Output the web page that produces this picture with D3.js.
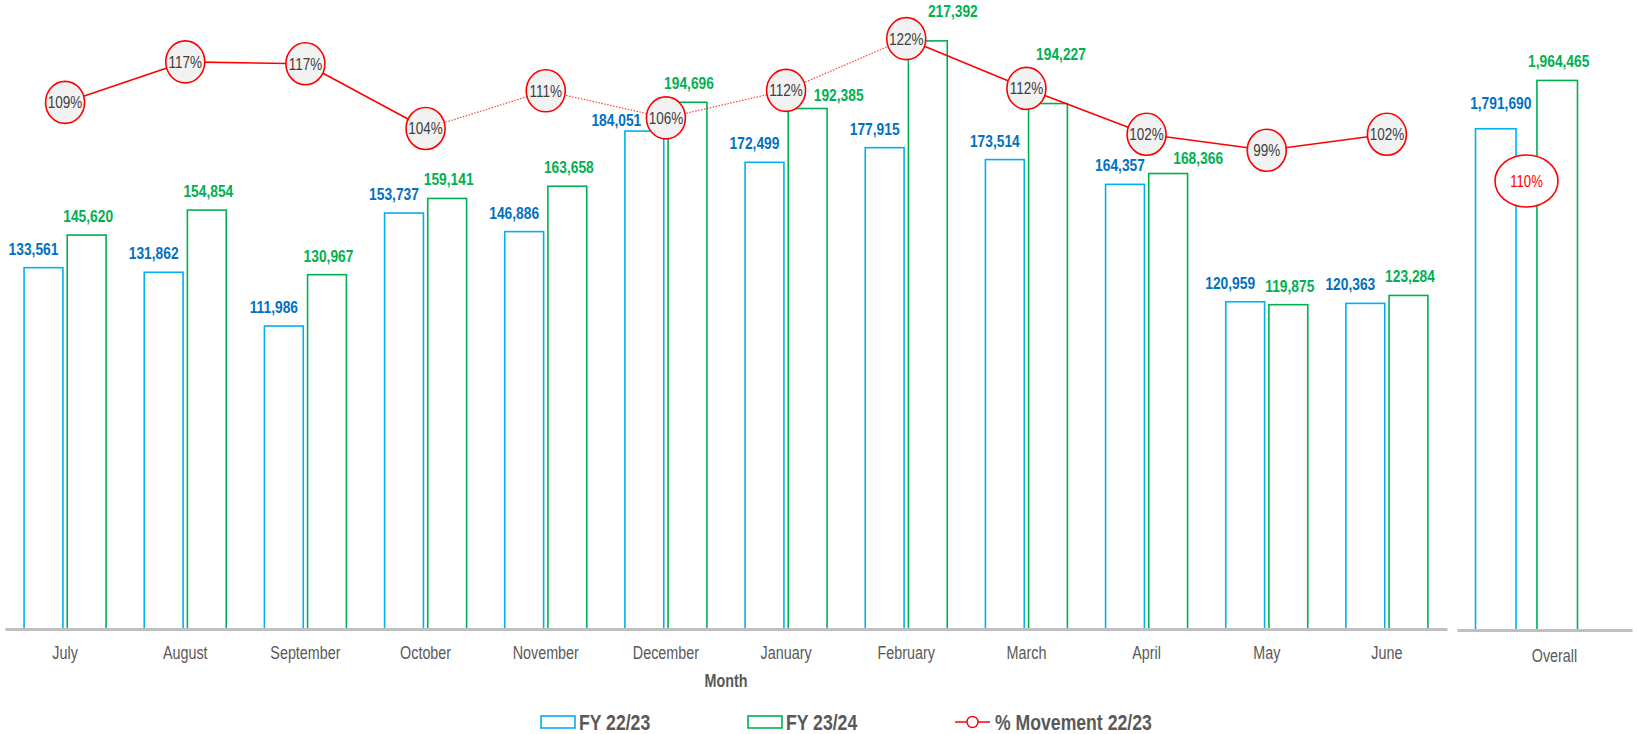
<!DOCTYPE html>
<html>
<head>
<meta charset="utf-8">
<script src="https://cdn.jsdelivr.net/npm/d3@7"></script>
<style>
  body { margin: 0; background: #fff; }
  #chart { width: 1639px; height: 734px; }
  text { font-family: 'Liberation Sans Narrow', 'Liberation Sans', Arial, sans-serif; }
</style>
</head>
<body>
<div id="chart"></div>
<script>
// values
const months = ['July', 'August', 'September', 'October', 'November', 'December',
                'January', 'February', 'March', 'April', 'May', 'June'];
const fy2223 = [133561, 131862, 111986, 153737, 146886, 184051, 172499, 177915, 173514, 164357, 120959, 120363];
const fy2324 = [145620, 154854, 130967, 159141, 163658, 194696, 192385, 217392, 194227, 168366, 119875, 123284];
const movement = [1.090, 1.174, 1.170, 1.036, 1.114, 1.058, 1.115, 1.222, 1.119, 1.024, 0.991, 1.024];

const overallCategory = ['Overall'];
const overall2223 = [1791690];
const overall2324 = [1964465];
const overallMovement = [1.096];

const seriesNames = ['FY 22/23', 'FY 23/24', '% Movement 22/23'];
// line segments starting at these months are drawn dotted
const dottedFrom = ['October', 'November', 'December', 'January'];

// hand-moved data labels in the original: [dx, gap above bar]
const labelNudges = {
    'December|FY 22/23': [-28, 5],
    'January|FY 23/24': [31, 8],
    'February|FY 23/24': [25, 24],
    'March|FY 23/24': [13, 44],
    'April|FY 22/23': [-5, 13],
    'April|FY 23/24': [30, 10],
    'May|FY 22/23': [-15, 13],
    'June|FY 22/23': [-15, 13],
    'Overall|FY 22/23': [5, 20]
};

class MovementChart {

    constructor(opts) {
        this.element = opts.element;
        this.colors = {
            'FY 22/23': '#00B0F0',
            'FY 23/24': '#00B050',
            line: '#FF0000'
        };
        this.labelColors = {
            'FY 22/23': '#0070C0',
            'FY 23/24': '#00B050'
        };
        // the source picture is squeezed sideways, text included
        this.sx = 0.82;
        this.fmt = d3.format(',');
        this.pct = d3.format('.0%');
        this.draw();
    }

    draw() {
        this.width = 1639;
        this.height = 734;
        this.baseline = 629;

        this.element.innerHTML = '';
        this.svg = d3.select(this.element).append('svg')
            .attr('width', this.width)
            .attr('height', this.height)
            .attr('viewBox', `0 0 ${this.width} ${this.height}`);

        this.rows = months.map((m, i) => ({
            cat: m,
            values: [
                {key: seriesNames[0], value: fy2223[i]},
                {key: seriesNames[1], value: fy2324[i]}
            ],
            pct: movement[i]
        }));
        this.overallRows = overallCategory.map((c, i) => ({
            cat: c,
            values: [
                {key: seriesNames[0], value: overall2223[i]},
                {key: seriesNames[1], value: overall2324[i]}
            ],
            pct: overallMovement[i]
        }));

        this.createScales();
        this.addBars(this.rows, this.xScale, this.xSub, this.yScale, -10);
        this.addBars(this.overallRows, this.xOverall, this.xOverallSub, this.yOverall, 0);
        this.addAxes();
        this.addLine();
        this.addOverallMarker();
        this.addLegend();
    }

    createScales() {
        this.xScale = d3.scaleBand()
            .domain(months)
            .range([5, 1447]);

        this.xSub = d3.scaleBand()
            .domain(seriesNames.slice(0, 2))
            .range([-41, 41])
            .paddingInner(0.1);

        this.yScale = d3.scaleLinear()
            .domain([0, 232500])
            .range([this.baseline, 0]);

        this.pScale = d3.scaleLinear()
            .domain([0, 1.302])
            .range([this.baseline, 0]);

        this.xOverall = d3.scaleBand()
            .domain(overallCategory)
            .range([1457, 1632]);

        this.xOverallSub = d3.scaleBand()
            .domain(seriesNames.slice(0, 2))
            .range([-69, 33])
            .paddingInner(0.34);

        this.yOverall = d3.scaleLinear()
            .domain([0, 2252000])
            .range([630, 0]);

        this.pOverall = d3.scaleLinear()
            .domain([0, 1.538])
            .range([630, 0]);
    }

    addBars(rows, x, sub, y, blueShift) {
        const groups = this.svg.append('g')
            .selectAll('.bar-group')
            .data(rows)
            .enter()
            .append('g')
            .classed('bar-group', true)
            .attr('transform', d => `translate(${x(d.cat) + x.bandwidth() / 2},0)`);

        groups.selectAll('.bar')
            .data(d => d.values)
            .enter()
            .append('rect')
            .classed('bar', true)
            .attr('x', d => sub(d.key))
            .attr('y', d => y(d.value))
            .attr('width', sub.bandwidth())
            .attr('height', d => y(0) - y(d.value))
            .attr('fill', '#fff')
            .attr('stroke', d => this.colors[d.key])
            .attr('stroke-width', 1.6);

        // data labels
        groups.selectAll('.data-label')
            .data(d => d.values.map(v => Object.assign({cat: d.cat}, v)))
            .enter()
            .append('text')
            .classed('data-label', true)
            .text(d => this.fmt(d.value))
            .attr('text-anchor', 'middle')
            .attr('font-size', '16.8px')
            .attr('font-weight', 'bold')
            .attr('fill', d => this.labelColors[d.key])
            .attr('transform', d => {
                const n = labelNudges[`${d.cat}|${d.key}`];
                const dx = n ? n[0] : (d.key === seriesNames[0] ? blueShift : 1.5);
                const lx = sub(d.key) + sub.bandwidth() / 2 + dx;
                const ly = y(d.value) - (n ? n[1] : 13);
                return `translate(${lx},${ly}) scale(${this.sx},1)`;
            });
    }

    addAxes() {
        const xAxis = d3.axisBottom(this.xScale)
            .tickSize(0)
            .tickSizeOuter(0)
            .tickPadding(18);

        const main = this.svg.append('g')
            .attr('class', 'x axis')
            .attr('transform', `translate(0,${this.baseline})`)
            .call(xAxis);

        const oAxis = d3.axisBottom(this.xOverall)
            .tickSize(0)
            .tickSizeOuter(0)
            .tickPadding(20);

        const over = this.svg.append('g')
            .attr('class', 'x axis')
            .attr('transform', 'translate(0,630)')
            .call(oAxis);

        [main, over].forEach(g => {
            g.select('.domain')
                .attr('stroke', '#BFBFBF')
                .attr('stroke-width', 3);
            g.selectAll('text')
                .attr('font-size', '17.5px')
                .attr('font-family', null)
                .attr('fill', '#595959')
                .attr('transform', `scale(${this.sx},1)`);
        });
        over.selectAll('text').attr('dx', 10 / this.sx);

        this.svg.append('text')
            .text('Month')
            .attr('text-anchor', 'middle')
            .attr('font-size', '17.5px')
            .attr('font-weight', 'bold')
            .attr('fill', '#595959')
            .attr('transform', `translate(726,687) scale(${this.sx},1)`);
    }

    addLine() {
        const cx = d => this.xScale(d.cat) + this.xScale.bandwidth() / 2;
        const line = d3.line()
            .x(cx)
            .y(d => this.pScale(d.pct));

        const segments = d3.pairs(this.rows);
        this.svg.append('g')
            .selectAll('path')
            .data(segments)
            .enter()
            .append('path')
            .attr('d', d => line(d))
            .attr('fill', 'none')
            .attr('stroke', this.colors.line)
            .attr('stroke-width', d => dottedFrom.includes(d[0].cat) ? 1.2 : 1.6)
            .attr('stroke-dasharray', d => dottedFrom.includes(d[0].cat) ? '1.5,1.5' : null)
            .attr('opacity', d => dottedFrom.includes(d[0].cat) ? 0.75 : 1);

        const markers = this.svg.append('g')
            .selectAll('g')
            .data(this.rows)
            .enter()
            .append('g')
            .attr('transform', d => `translate(${cx(d)},${this.pScale(d.pct)})`);

        markers.append('ellipse')
            .attr('rx', 19.5)
            .attr('ry', 21)
            .attr('fill', '#F2F2F2')
            .attr('stroke', this.colors.line)
            .attr('stroke-width', 1.6);

        markers.append('text')
            .text(d => this.pct(d.pct))
            .attr('text-anchor', 'middle')
            .attr('dy', '0.36em')
            .attr('font-size', '16.5px')
            .attr('fill', '#404040')
            .attr('transform', `scale(${this.sx},1)`);
    }

    addOverallMarker() {
        const sub = this.xOverallSub;
        const mid = (sub(seriesNames[0]) + sub(seriesNames[1]) + sub.bandwidth()) / 2;
        const m = this.svg.append('g')
            .selectAll('g')
            .data(this.overallRows)
            .enter()
            .append('g')
            .attr('transform', d => `translate(${this.xOverall(d.cat) + this.xOverall.bandwidth() / 2 + mid},${this.pOverall(d.pct)})`);

        m.append('ellipse')
            .attr('rx', 31.5)
            .attr('ry', 26)
            .attr('fill', '#fff')
            .attr('stroke', this.colors.line)
            .attr('stroke-width', 1.6);

        m.append('text')
            .text(d => this.pct(d.pct))
            .attr('text-anchor', 'middle')
            .attr('dy', '0.36em')
            .attr('font-size', '16px')
            .attr('fill', this.colors.line)
            .attr('transform', `scale(${this.sx},1)`);
    }

    addLegend() {
        const items = [
            {name: seriesNames[0], x: 541, type: 'box', color: this.colors['FY 22/23']},
            {name: seriesNames[1], x: 748, type: 'box', color: this.colors['FY 23/24']},
            {name: seriesNames[2], x: 955, type: 'line', color: this.colors.line}
        ];
        const legend = this.svg.append('g')
            .attr('class', 'legend')
            .attr('transform', 'translate(0,722)');

        const item = legend.selectAll('g')
            .data(items)
            .enter()
            .append('g')
            .attr('transform', d => `translate(${d.x},0)`);

        item.filter(d => d.type === 'box')
            .append('rect')
            .attr('x', 0)
            .attr('y', -6)
            .attr('width', 34)
            .attr('height', 12)
            .attr('fill', '#fff')
            .attr('stroke', d => d.color)
            .attr('stroke-width', 1.6);

        const lineItem = item.filter(d => d.type === 'line');
        lineItem.append('line')
            .attr('x1', 0)
            .attr('x2', 35)
            .attr('stroke', d => d.color)
            .attr('stroke-width', 1.6);
        lineItem.append('circle')
            .attr('cx', 17.5)
            .attr('r', 5.5)
            .attr('fill', '#fff')
            .attr('stroke', d => d.color)
            .attr('stroke-width', 1.4);

        item.append('text')
            .text(d => d.name)
            .attr('font-size', '21.5px')
            .attr('font-weight', 'bold')
            .attr('fill', '#595959')
            .attr('transform', d => `translate(${d.type === 'box' ? 38 : 40},7.5) scale(${this.sx},1)`);
    }
}

new MovementChart({element: document.getElementById('chart')});
</script>
</body>
</html>
